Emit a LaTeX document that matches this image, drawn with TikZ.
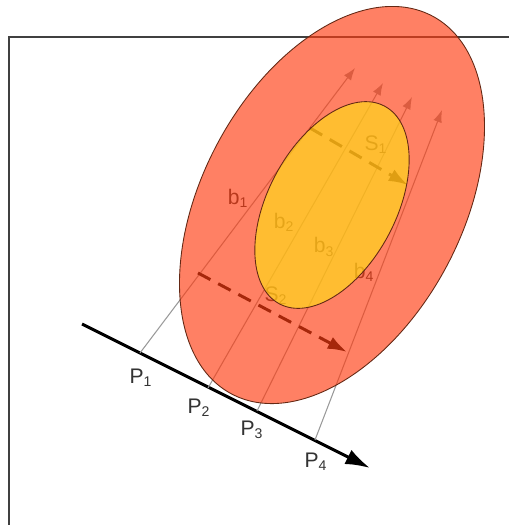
\documentclass[tikz,border=0pt]{standalone}
\usepackage{fontspec}
\setsansfont{Liberation Sans}
\usetikzlibrary{arrows.meta}
\definecolor{outerfill}{RGB}{255,60,17}
\definecolor{innerfill}{RGB}{255,223,23}
\definecolor{rim}{RGB}{100,40,20}
\begin{document}
\begin{tikzpicture}[
    x=0.02cm, y=-0.02cm,
    frame/.style={draw=black!75, line width=1.1pt},
    beam/.style={-{Latex[length=7pt,width=5pt]}, draw=black!40, line width=0.6pt},
    axis/.style={-{Latex[length=14pt,width=9pt]}, line width=1.7pt},
    shiftarr/.style={-{Latex[length=11pt,width=7.5pt]}, dash pattern=on 8pt off 5pt, line width=1.7pt, black},
    lbl/.style={font=\sffamily\fontsize{12}{14}\selectfont, text=black!80, inner sep=0pt},
    blob/.style={draw=rim, line width=0.5pt, fill opacity=0.65}
]
\useasboundingbox (0,0) rectangle (509,525);
\draw[frame] (9,525) -- (9,37) -- (509,37);

\coordinate (ax0) at (82,324);
\coordinate (ax1) at (370,468);
\coordinate (p1) at (140,353);
\coordinate (p2) at (208,388);
\coordinate (p3) at (257,411);
\coordinate (p4) at (315,440);
\coordinate (t1) at (355,68);
\coordinate (t2) at (383,83);
\coordinate (t3) at (412,97);
\coordinate (t4) at (442,110);
\coordinate (s1a) at (310,128);
\coordinate (s1b) at (408,185);
\coordinate (s2a) at (198,273);
\coordinate (s2b) at (347,352);
\coordinate (c) at (332,205);

\draw[axis] (ax0) -- (ax1);
\draw[beam] (p1) -- (t1);
\draw[beam] (p2) -- (t2);
\draw[beam] (p3) -- (t3);
\draw[beam] (p4) -- (t4);
\draw[shiftarr] (s1a) -- (s1b);
\draw[shiftarr] (s2a) -- (s2b);

\node[lbl] (lp1) at (141,378) {P\textsubscript{1}};
\node[lbl] (lp2) at (199,408) {P\textsubscript{2}};
\node[lbl] (lp3) at (252,430) {P\textsubscript{3}};
\node[lbl] (lp4) at (316,462) {P\textsubscript{4}};
\node[lbl] (lb1) at (238,198) {b\textsubscript{1}};
\node[lbl] (lb2) at (284,222) {b\textsubscript{2}};
\node[lbl] (lb3) at (324,247) {b\textsubscript{3}};
\node[lbl] (lb4) at (364,272) {b\textsubscript{4}};
\node[lbl] (ls1) at (376,145) {S\textsubscript{1}};
\node[lbl] (ls2) at (276,296) {S\textsubscript{2}};

\draw[blob, fill=outerfill, rotate around={62:(c)}] (c) ellipse [x radius=4.28cm, y radius=2.6cm];
\draw[blob, fill=innerfill, rotate around={62:(c)}] (c) ellipse [x radius=2.24cm, y radius=1.28cm];
\end{tikzpicture}
\end{document}
